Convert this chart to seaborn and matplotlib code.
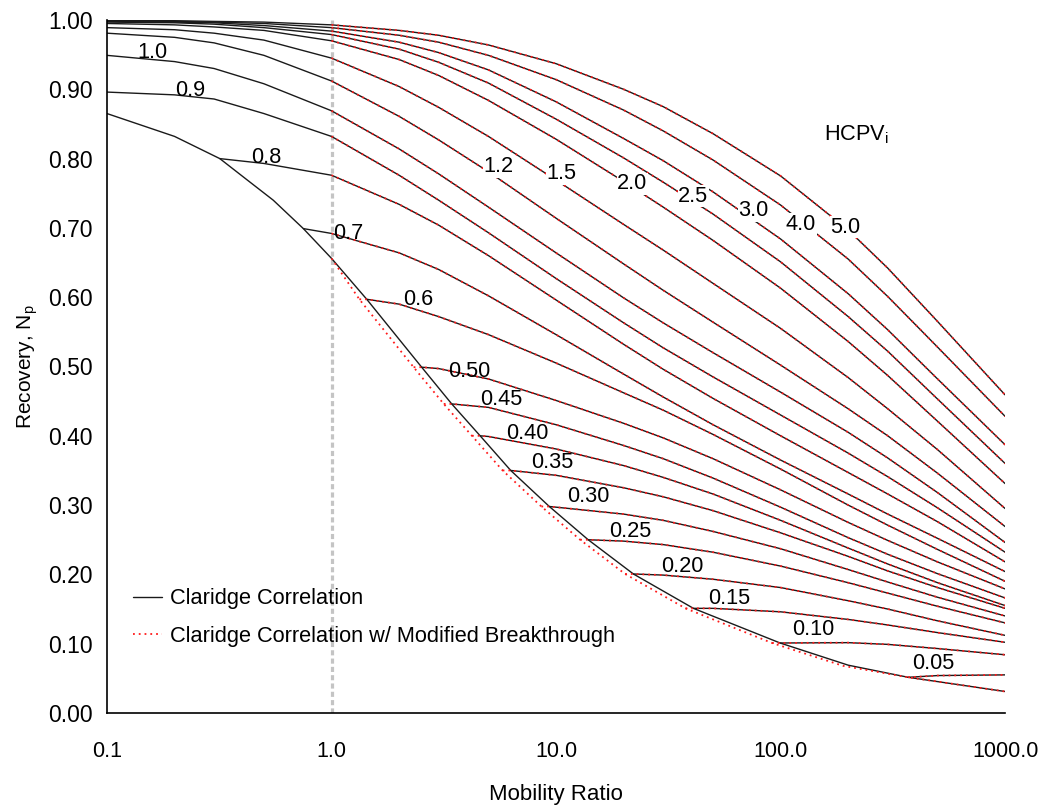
import numpy as np
import pandas as pd
import matplotlib
matplotlib.use("Agg")
import matplotlib.pyplot as plt
from matplotlib.lines import Line2D
from matplotlib.ticker import FixedLocator, LogLocator, NullFormatter, MultipleLocator, FormatStrFormatter
import seaborn as sns

# mobility ratio grid the curves were read at
m_grid = [0.1, 0.2, 0.3, 0.5, 1, 2, 3, 5, 10, 20, 30, 50, 100, 200, 300, 500, 1000]

# recovery Np (None = before breakthrough)
rec_5_0 = [0.9995, 0.999, 0.998, 0.997, 0.993, 0.985, 0.978, 0.964, 0.937, 0.900, 0.875, 0.836, 0.775, 0.697, 0.642, 0.565, 0.459]
rec_4_0 = [0.999, 0.998, 0.997, 0.995, 0.989, 0.978, 0.968, 0.949, 0.914, 0.870, 0.840, 0.798, 0.733, 0.655, 0.601, 0.528, 0.428]
rec_3_0 = [0.998, 0.997, 0.996, 0.992, 0.984, 0.968, 0.953, 0.928, 0.882, 0.829, 0.797, 0.752, 0.684, 0.605, 0.553, 0.482, 0.387]
rec_2_5 = [0.997, 0.996, 0.994, 0.989, 0.979, 0.958, 0.939, 0.909, 0.857, 0.801, 0.766, 0.720, 0.651, 0.572, 0.522, 0.453, 0.360]
rec_2_0 = [0.995, 0.993, 0.990, 0.985, 0.970, 0.943, 0.920, 0.884, 0.828, 0.767, 0.730, 0.682, 0.613, 0.536, 0.487, 0.421, 0.331]
rec_1_5 = [0.989, 0.986, 0.981, 0.971, 0.945, 0.904, 0.874, 0.832, 0.769, 0.705, 0.668, 0.620, 0.555, 0.484, 0.439, 0.380, 0.295]
rec_1_2 = [0.981, 0.975, 0.967, 0.949, 0.912, 0.861, 0.827, 0.781, 0.714, 0.648, 0.610, 0.564, 0.502, 0.439, 0.400, 0.346, 0.269]
rec_1_0 = [0.949, 0.940, 0.930, 0.908, 0.869, 0.814, 0.778, 0.730, 0.664, 0.599, 0.563, 0.520, 0.463, 0.405, 0.368, 0.318, 0.246]
rec_0_9 = [0.896, 0.892, 0.886, 0.865, 0.832, 0.776, 0.740, 0.693, 0.627, 0.563, 0.527, 0.485, 0.430, 0.375, 0.341, 0.296, 0.232]
rec_0_8 = [None, None, None, 0.793, 0.776, 0.734, 0.704, 0.660, 0.596, 0.532, 0.496, 0.454, 0.400, 0.347, 0.316, 0.276, 0.218]
rec_0_7 = [None, None, None, None, 0.692, 0.664, 0.640, 0.602, 0.546, 0.489, 0.456, 0.416, 0.365, 0.316, 0.287, 0.252, 0.204]
rec_0_6 = [None, None, None, None, None, 0.590, 0.572, 0.546, 0.505, 0.462, 0.437, 0.402, 0.352, 0.300, 0.271, 0.236, 0.190]
rec_0_50 = [None, None, None, None, None, None, 0.497, 0.482, 0.451, 0.418, 0.397, 0.367, 0.322, 0.275, 0.249, 0.218, 0.179]
rec_0_45 = [None, None, None, None, None, None, None, 0.441, 0.416, 0.386, 0.367, 0.339, 0.297, 0.253, 0.229, 0.201, 0.166]
rec_0_40 = [None, None, None, None, None, None, None, 0.399, 0.381, 0.357, 0.340, 0.316, 0.278, 0.238, 0.215, 0.188, 0.155]
rec_0_35 = [None, None, None, None, None, None, None, None, 0.343, 0.325, 0.312, 0.292, 0.260, 0.226, 0.205, 0.181, 0.151]
rec_0_30 = [None, None, None, None, None, None, None, None, 0.297, 0.287, 0.278, 0.262, 0.237, 0.207, 0.189, 0.167, 0.140]
rec_0_25 = [None, None, None, None, None, None, None, None, None, 0.248, 0.243, 0.232, 0.212, 0.188, 0.173, 0.154, 0.130]
rec_0_20 = [None, None, None, None, None, None, None, None, None, None, 0.199, 0.193, 0.181, 0.162, 0.150, 0.133, 0.112]
rec_0_15 = [None, None, None, None, None, None, None, None, None, None, None, 0.151, 0.146, 0.135, 0.127, 0.116, 0.102]
rec_0_10 = [None, None, None, None, None, None, None, None, None, None, None, None, None, 0.1015, 0.099, 0.093, 0.084]
rec_0_05 = [None, None, None, None, None, None, None, None, None, None, None, None, None, None, None, 0.054, 0.055]

hcpv = ["5.0", "4.0", "3.0", "2.5", "2.0", "1.5", "1.2", "1.0", "0.9", "0.8", "0.7", "0.6",
        "0.50", "0.45", "0.40", "0.35", "0.30", "0.25", "0.20", "0.15", "0.10", "0.05"]
recs = [rec_5_0, rec_4_0, rec_3_0, rec_2_5, rec_2_0, rec_1_5, rec_1_2, rec_1_0, rec_0_9, rec_0_8,
        rec_0_7, rec_0_6, rec_0_50, rec_0_45, rec_0_40, rec_0_35, rec_0_30, rec_0_25, rec_0_20,
        rec_0_15, rec_0_10, rec_0_05]

# breakthrough point of each curve (None = starts at left edge)
start_m = [None] * 9 + [0.318, 0.749, 1.435, 2.52, 3.43, 4.59, 6.28, 9.33, 13.9, 22.1, 40.9, 99.5, 370]
start_v = [None] * 9 + [0.800, 0.699, 0.597, 0.499, 0.446, 0.400, 0.350, 0.298, 0.250, 0.2006, 0.151, 0.101, 0.0515]
# start on the modified breakthrough curve
mod_start_m = [None] * 11 + [1.33, 2.32, 3.16, 4.22, 5.78, 8.6, 12.8, 20.3, 37.7, 91.6, 370]

# breakthrough envelope
bt_m = [0.1, 0.2, 0.318, 0.418, 0.55, 0.749, 1.0, 1.435, 2.52, 3.43, 4.59, 6.28, 9.33, 13.9, 22.1,
        40.9, 99.5, 200, 370, 1000]
bt_v = [0.865, 0.832, 0.800, 0.770, 0.740, 0.699, 0.656, 0.597, 0.499, 0.446, 0.400, 0.350, 0.298,
        0.250, 0.2006, 0.151, 0.101, 0.069, 0.0515, 0.031]
mod_bt_m = [1.0, 1.33, 2.32, 3.16, 4.22, 5.78, 8.6, 12.8, 20.3, 37.7, 91.6, 190, 370, 1000]
mod_bt_v = [0.656, 0.597, 0.499, 0.446, 0.400, 0.350, 0.298, 0.250, 0.2006, 0.151, 0.101, 0.068, 0.0515, 0.031]

# curve labels (position in data coords)
label_m = [193.8, 123.4, 75.4, 40.8, 21.8, 10.53, 5.52, 0.1586, 0.2343, 0.5108, 1.185, 2.428,
           4.097, 5.69, 7.43, 9.60, 13.88, 21.36, 36.4, 58.97, 139.6, 477.9]
label_v = [0.7013, 0.7056, 0.7244, 0.7460, 0.7634, 0.7778, 0.7879, 0.9524, 0.8976, 0.8009, 0.6926,
           0.5960, 0.4921, 0.4517, 0.4026, 0.3608, 0.3131, 0.2612, 0.2121, 0.1659, 0.1198, 0.0707]

x_ticks = [0.1, 1, 10, 100, 1000]
x_tick_labels = ["0.1", "1.0", "10.0", "100.0", "1000.0"]

# build long tables
black_rows, red_rows = [], []
for i, name in enumerate(hcpv):
    pts = []
    if start_m[i] is not None:
        pts.append((start_m[i], start_v[i]))
    for m, v in zip(m_grid, recs[i]):
        if v is None:
            continue
        if start_m[i] is not None and m <= start_m[i]:
            continue
        pts.append((m, v))
    for m, v in pts:
        black_rows.append({"curve": name, "M": m, "Np": v})
    if mod_start_m[i] is not None:
        red_pts = [(mod_start_m[i], start_v[i])] + pts
    else:
        red_pts = [p for p in pts if p[0] >= 1]
    for m, v in red_pts:
        red_rows.append({"curve": name, "M": m, "Np": v})
for m, v in zip(bt_m, bt_v):
    black_rows.append({"curve": "bt", "M": m, "Np": v})
for m, v in zip(mod_bt_m, mod_bt_v):
    red_rows.append({"curve": "bt", "M": m, "Np": v})
black_df = pd.DataFrame(black_rows)
red_df = pd.DataFrame(red_rows)

sns.set_style("white")
plt.rcParams["font.family"] = ["Liberation Sans", "DejaVu Sans"]
plt.rcParams["mathtext.fontset"] = "custom"
plt.rcParams["mathtext.rm"] = "Liberation Sans"
plt.rcParams["text.color"] = "black"
plt.rcParams["axes.labelcolor"] = "black"

fig = plt.figure(figsize=(10.48, 8.07), dpi=100)
ax = fig.add_axes([0.1021, 0.1165, 0.857, 0.8587])

ax.axvline(1.0, color="#c4c4c4", lw=2.3, ls=(0, (1.6, 1.0)), zorder=1)

sns.lineplot(data=black_df, x="M", y="Np", units="curve", estimator=None, sort=False,
             color="#1a1a1a", lw=1.0, ax=ax, zorder=2)
sns.lineplot(data=red_df, x="M", y="Np", units="curve", estimator=None, sort=False,
             color="#ff1a1a", lw=1.3, linestyle=(0, (1.0, 2.2)), ax=ax, zorder=3)

ax.set_xscale("log")
ax.set_xlim(0.1, 1000)
ax.set_ylim(0, 1)

ax.xaxis.set_major_locator(FixedLocator(x_ticks))
ax.set_xticklabels(x_tick_labels)
ax.xaxis.set_minor_locator(LogLocator(base=10, subs=range(2, 10)))
ax.xaxis.set_minor_formatter(NullFormatter())
ax.yaxis.set_major_locator(MultipleLocator(0.1))
ax.yaxis.set_minor_locator(MultipleLocator(0.02))
ax.yaxis.set_major_formatter(FormatStrFormatter("%.2f"))

ax.tick_params(axis="x", which="major", direction="in", length=9.5, width=1, pad=20,
               labelsize=15.5, colors="black")
ax.tick_params(axis="x", which="minor", direction="out", length=3.5, width=1, colors="black")
ax.tick_params(axis="y", which="major", direction="inout", length=10, width=1, pad=5,
               labelsize=16.5, colors="black")
ax.tick_params(axis="y", which="minor", direction="out", length=3.5, width=1, colors="black")

for s in ["top", "right"]:
    ax.spines[s].set_visible(False)
for s in ["left", "bottom"]:
    ax.spines[s].set_color("black")
    ax.spines[s].set_linewidth(1.2)

ax.set_xlabel("Mobility Ratio", fontsize=16, labelpad=16)
ax.set_ylabel("Recovery, N$_\\mathregular{p}$", fontsize=15, labelpad=6)

for i, name in enumerate(hcpv):
    box = dict(fc="white", ec="none", pad=0.3) if i < 7 else None
    ax.text(label_m[i], label_v[i], name, ha="center", va="center", fontsize=15.7,
            bbox=box, zorder=5)
ax.text(156.2, 0.834, "HCPV$_\\mathregular{i}$", ha="left", va="center", fontsize=15.7)

handles = [Line2D([], [], color="#1a1a1a", lw=1.0),
           Line2D([], [], color="#ff1a1a", lw=1.3, ls=(0, (1.0, 2.2)))]
ax.legend(handles, ["Claridge Correlation", "Claridge Correlation w/ Modified Breakthrough"],
          loc="upper left", bbox_to_anchor=(0.0075, 0.208), frameon=False, fontsize=15.7,
          handlelength=1.3, handletextpad=0.4, labelspacing=0.76)

fig.savefig("out.png", dpi=100)
